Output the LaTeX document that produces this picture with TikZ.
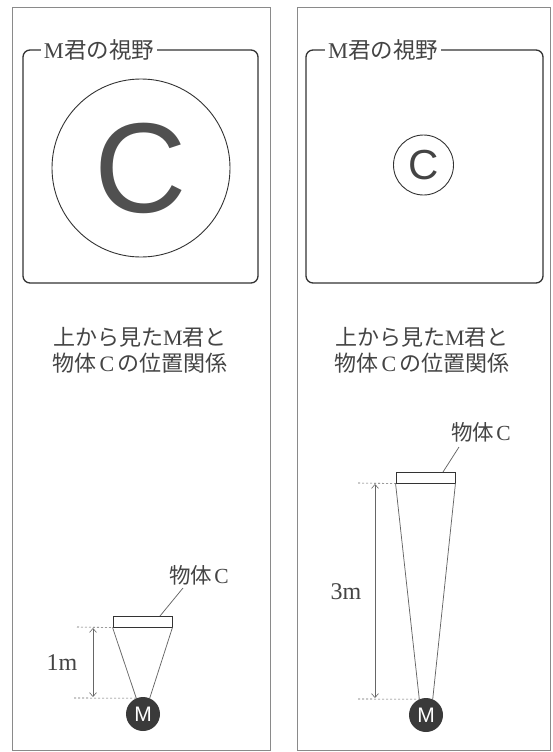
\documentclass[tikz,border=0pt]{standalone}
\usepackage{fontspec}
\setmainfont{Liberation Serif}
\newfontfamily\jp{Noto Sans CJK JP}
\newfontfamily\hv{Liberation Sans}
\usetikzlibrary{arrows.meta}
\definecolor{txt}{HTML}{444444}
\definecolor{panelc}{HTML}{8A8A8A}
\definecolor{framec}{HTML}{333333}
\definecolor{inkc}{HTML}{3A3A3A}
\definecolor{thinc}{HTML}{666666}
\definecolor{bigcc}{HTML}{505050}
\begin{document}
\begin{tikzpicture}[x=1pt,y=-1pt,
 panelbox/.style={draw=panelc,line width=0.8pt,inner sep=0pt},
 viewframe/.style={draw=framec,line width=1.3pt,rounded corners=7pt,inner sep=0pt},
 framelabel/.style={fill=white,inner xsep=3pt,inner ysep=1pt,text=txt,font=\fontsize{22.5}{22.5}\selectfont},
 caption/.style={align=center,text=txt,font=\fontsize{22}{26}\selectfont},
 dimline/.style={draw=thinc,line width=0.6pt,{Straight Barb[length=4pt,width=7pt]}-{Straight Barb[length=4pt,width=7pt]}},
 guide/.style={draw=thinc,line width=0.6pt,dash pattern=on 2pt off 2pt},
 ray/.style={draw=thinc,line width=0.75pt},
 objbox/.style={draw=framec,line width=0.9pt,fill=white,minimum width=59pt,minimum height=11pt,inner sep=0pt},
 objedge/.style={draw=framec,line width=1.8pt},
 person/.style={circle,fill=inkc,minimum size=34pt,inner sep=0pt,text=white,font=\hv\fontsize{21}{21}\selectfont},
 objlabel/.style={text=txt,font=\fontsize{21.5}{21.5}\selectfont},
 distlabel/.style={text=txt,font=\fontsize{24}{24}\selectfont},
 viewcircle/.style={circle,draw=framec,line width=0.9pt,inner sep=0pt}
]
\useasboundingbox (0,0) rectangle (552,752);
% panels
\node[panelbox,minimum width=258pt,minimum height=743pt] (lpanel) at (141,378.5) {};
\node[panelbox,minimum width=253pt,minimum height=743pt] (rpanel) at (423.5,378.5) {};
% view frames
\node[viewframe,minimum width=235pt,minimum height=233pt] (lframe) at (140.5,166.5) {};
\node[viewframe,minimum width=237pt,minimum height=233pt] (rframe) at (424.5,166.5) {};
\node[framelabel] (lflabel) at (99,50) {M{\jp 君の視野}};
\node[framelabel] (rflabel) at (383,50) {M{\jp 君の視野}};
% circles with C
\node[viewcircle,minimum size=178pt,text=bigcc,font=\hv\fontsize{128}{128}\selectfont] (bigc) at (141,168) {C};
\node[viewcircle,minimum size=60pt,text=txt,font=\hv\fontsize{42}{42}\selectfont] (smallc) at (423.5,165) {C};
% captions
\node[caption] (lcap) at (140,350) {{\jp 上から見た}M{\jp 君と}\\{\jp 物体}\kern3pt C\kern3pt{\jp の位置関係}};
\node[caption] (rcap) at (422,350) {{\jp 上から見た}M{\jp 君と}\\{\jp 物体}\kern3pt C\kern3pt{\jp の位置関係}};
% ---- left scene (1 m)
\node[objbox] (lobj) at (142.5,621.5) {};
\draw[objedge] (lobj.south west) -- (lobj.south east);
\node[person] (lm) at (143,714) {M};
\draw[ray] (lobj.south west) -- (lm.113);
\draw[ray] (lobj.south east) -- (lm.67);
\coordinate (ltopdash) at (77,627);
\coordinate (lbotdash) at (74,698);
\draw[guide] (ltopdash) -- (lobj.south west);
\draw[guide] (lbotdash) -- (lm.113);
\coordinate (larrtop) at (93,628);
\coordinate (larrbot) at (93,697);
\draw[dimline] (larrtop) -- (larrbot);
\node[distlabel] (ldist) at (62,663) {1m};
\node[objlabel] (lobjlabel) at (199,575) {{\jp 物体}\kern2pt C};
\coordinate (lleadA) at (160,616);
\coordinate (lleadB) at (183,588);
\draw[ray] (lleadA) -- (lleadB);
% ---- right scene (3 m)
\node[objbox] (robj) at (425.5,477.5) {};
\draw[objedge] (robj.south west) -- (robj.south east);
\node[person] (rm) at (426,715) {M};
\draw[ray] (robj.south west) -- (rm.113);
\draw[ray] (robj.south east) -- (rm.67);
\coordinate (rtopdash) at (358,483);
\coordinate (rbotdash) at (358,699);
\draw[guide] (rtopdash) -- (robj.south west);
\draw[guide] (rbotdash) -- (rm.113);
\coordinate (rarrtop) at (375,484);
\coordinate (rarrbot) at (375,698);
\draw[dimline] (rarrtop) -- (rarrbot);
\node[distlabel] (rdist) at (346,592) {3m};
\node[objlabel] (robjlabel) at (481,432) {{\jp 物体}\kern2pt C};
\coordinate (rleadA) at (443,472);
\coordinate (rleadB) at (459,447);
\draw[ray] (rleadA) -- (rleadB);
\end{tikzpicture}
\end{document}
